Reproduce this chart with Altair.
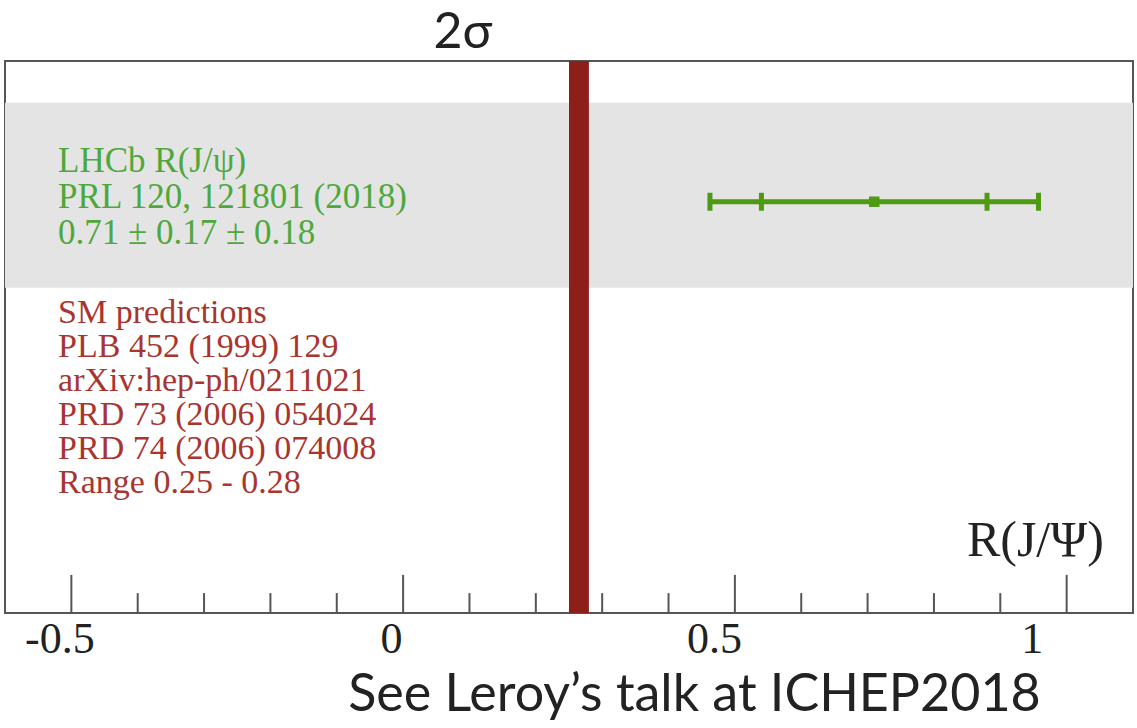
import math

import altair as alt
import pandas as pd

# ---- values -------------------------------------------------------------
X_MIN, X_MAX = -0.6, 1.1          # R(J/psi) axis range
ROW_MIN, ROW_MAX = 0.0, 10.0      # vertical layout rows (0 = top)

# LHCb measurement: value ± stat ± syst
meas_value = [0.71]
meas_stat = [0.17]
meas_syst = [0.18]
meas_row = [2.55]

# SM prediction range
sm_low = [0.25]
sm_high = [0.28]

# shaded band around the measurement
band_rows = [0.755, 4.11]

major_ticks = [-0.5, 0.0, 0.5, 1.0]
minor_ticks = [-0.4, -0.3, -0.2, -0.1, 0.1, 0.2, 0.3, 0.4, 0.6, 0.7, 0.8, 0.9]

lhcb_lines = ["LHCb R(J/ψ)", "PRL 120, 121801 (2018)", "0.71 ± 0.17 ± 0.18"]
sm_lines = [
    "SM predictions",
    "PLB 452 (1999) 129",
    "arXiv:hep-ph/0211021",
    "PRD 73 (2006) 054024",
    "PRD 74 (2006) 074008",
    "Range 0.25 - 0.28",
]
sigma_label = ["2σ"]

# ---- styling ------------------------------------------------------------
GREEN_TEXT = "#4ea83c"
GREEN_BAR = "#4e9a10"
RED_TEXT = "#a8352f"
RED_BAR = "#8c1f1a"
BAND = "#e4e4e4"
FRAME = "#555555"
SERIF = "Liberation Serif"
SANS = "Lato"

W, H = 1128, 552

xscale = alt.Scale(domain=[X_MIN, X_MAX], nice=False, zero=False)
yscale = alt.Scale(domain=[ROW_MIN, ROW_MAX], nice=False, zero=False, reverse=True)

xaxis = alt.Axis(
    values=major_ticks,
    domain=False,
    ticks=False,
    grid=False,
    labelFont=SERIF,
    labelFontSize=44,
    labelColor="#222222",
    labelPadding=4,
    labelOffset={
        "condition": [
            {"test": "datum.value === 1", "value": -35},
            {"test": "datum.value === 0.5", "value": -21},
        ],
        "value": -12,
    },
    labelExpr="datum.value < 0 ? '-' + format(-datum.value, '~g') : format(datum.value, '~g')",
    title="See Leroy’s talk at ICHEP2018",
    titleFont=SANS,
    titleFontSize=52,
    titleFontWeight="normal",
    titleColor="#222222",
    titleAlign="center",
    titleBaseline="alphabetic",
    titleX=689,
    titleY=97,
)


def X(field):
    return alt.X(field, type="quantitative", scale=xscale, axis=xaxis)


def Y(field):
    return alt.Y(field, type="quantitative", scale=yscale, axis=None)


# ---- data tables --------------------------------------------------------
band_df = pd.DataFrame({"x0": [X_MIN], "x1": [X_MAX], "y0": [band_rows[0]], "y1": [band_rows[1]]})
sm_df = pd.DataFrame({"lo": sm_low, "hi": sm_high, "y0": [ROW_MIN], "y1": [ROW_MAX]})

meas_df = pd.DataFrame({"v": meas_value, "stat": meas_stat, "syst": meas_syst, "row": meas_row})
meas_df["tot"] = [math.hypot(a, b) for a, b in zip(meas_df["stat"], meas_df["syst"])]
meas_df["tot_lo"] = meas_df["v"] - meas_df["tot"]
meas_df["tot_hi"] = meas_df["v"] + meas_df["tot"]
meas_df["stat_lo"] = meas_df["v"] - meas_df["stat"]
meas_df["stat_hi"] = meas_df["v"] + meas_df["stat"]

caps_df = pd.DataFrame({
    "x": [meas_df["tot_lo"][0], meas_df["stat_lo"][0], meas_df["stat_hi"][0], meas_df["tot_hi"][0]],
    "row": meas_row * 4,
})

major_df = pd.DataFrame({"x": major_ticks, "y0": [ROW_MAX] * len(major_ticks), "y1": [9.31] * len(major_ticks)})
minor_df = pd.DataFrame({"x": minor_ticks, "y0": [ROW_MAX] * len(minor_ticks), "y1": [9.64] * len(minor_ticks)})

lhcb_df = pd.DataFrame({"x": [-0.52], "row": [2.01], "label": ["\n".join(lhcb_lines)]})
smtxt_df = pd.DataFrame({"x": [-0.52], "row": [4.75], "label": ["\n".join(sm_lines)]})
rlab_df = pd.DataFrame({"x": [1.056], "row": [8.97], "label": ["R(J/Ψ)"]})
sigma_df = pd.DataFrame({"x": [0.09], "row": [-0.24], "label": sigma_label})

# ---- layers -------------------------------------------------------------
band = alt.Chart(band_df).mark_rect(color=BAND).encode(
    x=X("x0"), x2="x1", y=Y("y0"), y2="y1"
)

sm_bar = alt.Chart(sm_df).mark_rect(color=RED_BAR).encode(
    x=X("lo"), x2="hi", y=Y("y0"), y2="y1"
)

major = alt.Chart(major_df).mark_rule(color=FRAME, strokeWidth=2).encode(
    x=X("x"), y=Y("y0"), y2="y1"
)
minor = alt.Chart(minor_df).mark_rule(color=FRAME, strokeWidth=2).encode(
    x=X("x"), y=Y("y0"), y2="y1"
)

err = alt.Chart(meas_df).mark_rule(color=GREEN_BAR, strokeWidth=5).encode(
    x=X("tot_lo"), x2="tot_hi", y=Y("row")
)
caps = alt.Chart(caps_df).mark_tick(color=GREEN_BAR, thickness=5, size=18, orient="vertical", opacity=1).encode(
    x=X("x"), y=Y("row")
)
center = alt.Chart(meas_df).mark_square(color=GREEN_BAR, size=110, opacity=1).encode(
    x=X("v"), y=Y("row")
)

lhcb_txt = alt.Chart(lhcb_df).mark_text(
    align="left", baseline="alphabetic", lineBreak="\n", lineHeight=36,
    font=SERIF, fontSize=35, color=GREEN_TEXT,
).encode(x=X("x"), y=Y("row"), text="label:N")

sm_txt = alt.Chart(smtxt_df).mark_text(
    align="left", baseline="alphabetic", lineBreak="\n", lineHeight=34,
    font=SERIF, fontSize=34, color=RED_TEXT,
).encode(x=X("x"), y=Y("row"), text="label:N")

rlab = alt.Chart(rlab_df).mark_text(
    align="right", baseline="alphabetic", font=SERIF, fontSize=50, color="#222222",
).encode(x=X("x"), y=Y("row"), text="label:N")

sigma = alt.Chart(sigma_df).mark_text(
    align="center", baseline="alphabetic", font=SANS, fontSize=50, color="#222222",
).encode(x=X("x"), y=Y("row"), text="label:N")

chart = (
    alt.layer(band, sm_bar, major, minor, err, caps, center, lhcb_txt, sm_txt, rlab, sigma)
    .properties(
        width=W,
        height=H,
        autosize=alt.AutoSizeParams(type="none"),
        padding={"left": 5, "top": 61, "right": 4, "bottom": 115},
        background="white",
    )
    .configure_view(stroke=FRAME, strokeWidth=2)
)

chart.save("out.html", embed_options={"renderer": "svg", "actions": False})
